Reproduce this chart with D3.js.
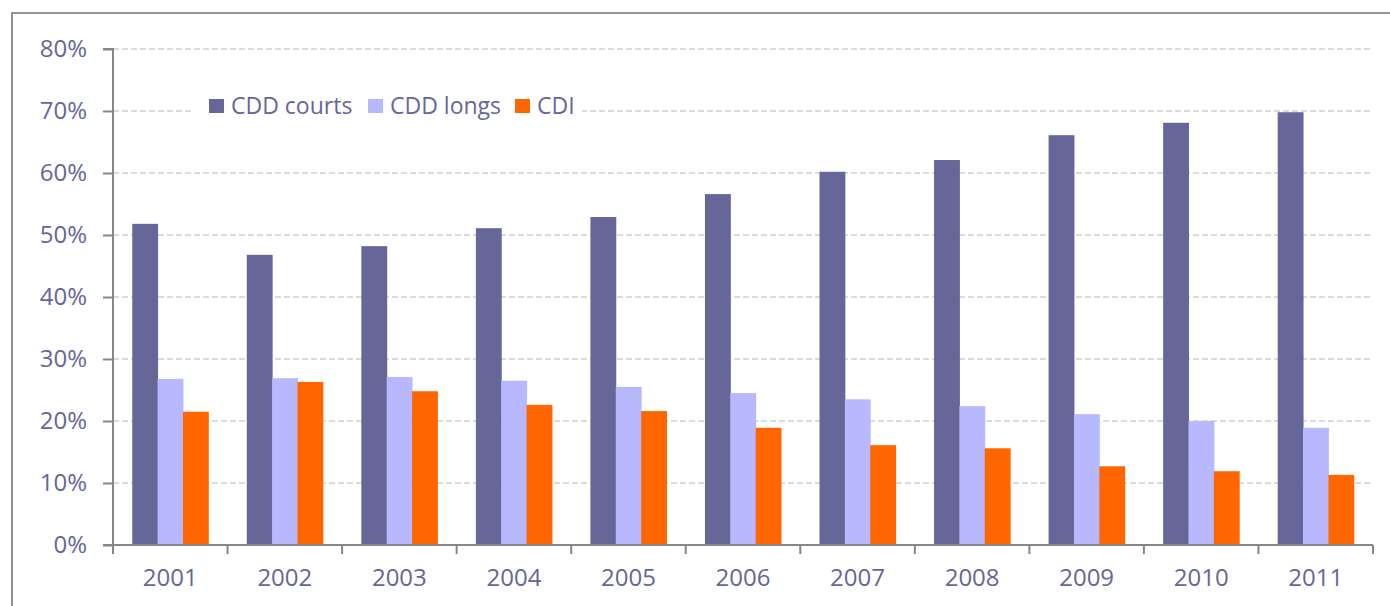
<!DOCTYPE html>
<html>
<head>
<meta charset="utf-8">
<script src="https://cdn.jsdelivr.net/npm/d3@7"></script>
<style>
  body { margin: 0; background: #fff; }
  text { font-family: "Open Sans", sans-serif; fill: #666699; }
</style>
</head>
<body>
<script>
var w = 1390;
var h = 606;

var years = ["2001", "2002", "2003", "2004", "2005", "2006", "2007", "2008", "2009", "2010", "2011"];
var series = ["CDD courts", "CDD longs", "CDI"];
var cddCourts = [51.8, 46.8, 48.2, 51.1, 52.9, 56.6, 60.2, 62.1, 66.1, 68.1, 69.8];
var cddLongs = [26.8, 26.9, 27.1, 26.5, 25.5, 24.5, 23.5, 22.4, 21.1, 20.0, 18.9];
var cdi = [21.5, 26.3, 24.8, 22.6, 21.6, 18.9, 16.1, 15.6, 12.7, 11.9, 11.3];
var yTicks = [0, 10, 20, 30, 40, 50, 60, 70, 80];

var colors = ["#666699", "#b8b8ff", "#ff6600"];
var values = [cddCourts, cddLongs, cdi];

var plotL = 113, plotR = 1373, plotT = 49, plotB = 545;

var svg = d3.select("body").append("svg").attr("width", w).attr("height", h);

// frame
svg.append("path")
    .attr("d", "M12," + h + "V13H" + w)
    .attr("fill", "none")
    .attr("stroke", "#959595")
    .attr("stroke-width", 2);

var x0 = d3.scaleBand()
    .domain(years)
    .range([plotL, plotR])
    .paddingInner(0.336)
    .paddingOuter(0.168);

var x1 = d3.scaleBand()
    .domain(d3.range(series.length))
    .range([0, x0.bandwidth()]);

var y = d3.scaleLinear()
    .domain([0, 80])
    .range([plotB, plotT]);

// gridlines
svg.selectAll(".grid")
    .data(yTicks.filter(d => d > 0))
    .enter().append("line")
    .attr("x1", plotL)
    .attr("x2", plotR)
    .attr("y1", d => y(d))
    .attr("y2", d => y(d))
    .attr("stroke", "#b8b8b8")
    .attr("stroke-width", 1)
    .attr("stroke-dasharray", "6,3");

// bars
var groups = svg.selectAll(".year")
    .data(years).enter()
    .append("g")
    .attr("transform", d => "translate(" + x0(d) + ",0)");

groups.selectAll("rect")
    .data((d, i) => values.map((v, s) => ({s: s, v: v[i]})))
    .enter().append("rect")
    .attr("x", d => x1(d.s))
    .attr("y", d => y(d.v))
    .attr("width", x1.bandwidth() + 0.5)
    .attr("height", d => plotB - y(d.v))
    .attr("fill", d => colors[d.s]);

// y axis
var yAxis = svg.append("g")
    .attr("transform", "translate(" + plotL + ",0)")
    .call(d3.axisLeft(y).tickValues(yTicks).tickSize(10).tickPadding(16).tickFormat(d => d + "%"));

// x axis
var xTickPos = d3.range(years.length + 1).map(i => plotL + i * x0.step());
var xAxis = svg.append("g")
    .attr("transform", "translate(0," + plotB + ")")
    .call(d3.axisBottom(x0).tickSize(0).tickPadding(24));

xAxis.selectAll(".tick-mark")
    .data(xTickPos).enter()
    .append("line")
    .attr("x1", d => d).attr("x2", d => d)
    .attr("y1", 0).attr("y2", 9)
    .attr("stroke", "#868686")
    .attr("stroke-width", 2);

[yAxis, xAxis].forEach(function (a) {
    a.select(".domain").attr("stroke", "#868686").attr("stroke-width", 2);
    a.selectAll(".tick line").attr("stroke", "#868686").attr("stroke-width", 2);
    a.selectAll("text")
        .attr("font-family", "Open Sans, sans-serif")
        .attr("font-size", "24px")
        .attr("fill", "#666699");
});
yAxis.select(".domain").attr("d", "M-10," + plotT + "H0V" + plotB + "H-10");
xAxis.select(".domain").attr("d", "M" + plotL + ",0H" + plotR);

// legend
var legend = svg.append("g");
legend.append("rect")
    .attr("x", 192).attr("y", 92)
    .attr("width", 390).attr("height", 30)
    .attr("fill", "#fff");

var legX = [209, 368, 515];
var items = legend.selectAll(".item")
    .data(series).enter()
    .append("g")
    .attr("transform", (d, i) => "translate(" + legX[i] + ",99)");

items.append("rect")
    .attr("width", 15).attr("height", 14)
    .attr("fill", (d, i) => colors[i]);

items.append("text")
    .attr("x", 22)
    .attr("y", 15)
    .attr("font-size", "23px")
    .text(d => d);
</script>
</body>
</html>
